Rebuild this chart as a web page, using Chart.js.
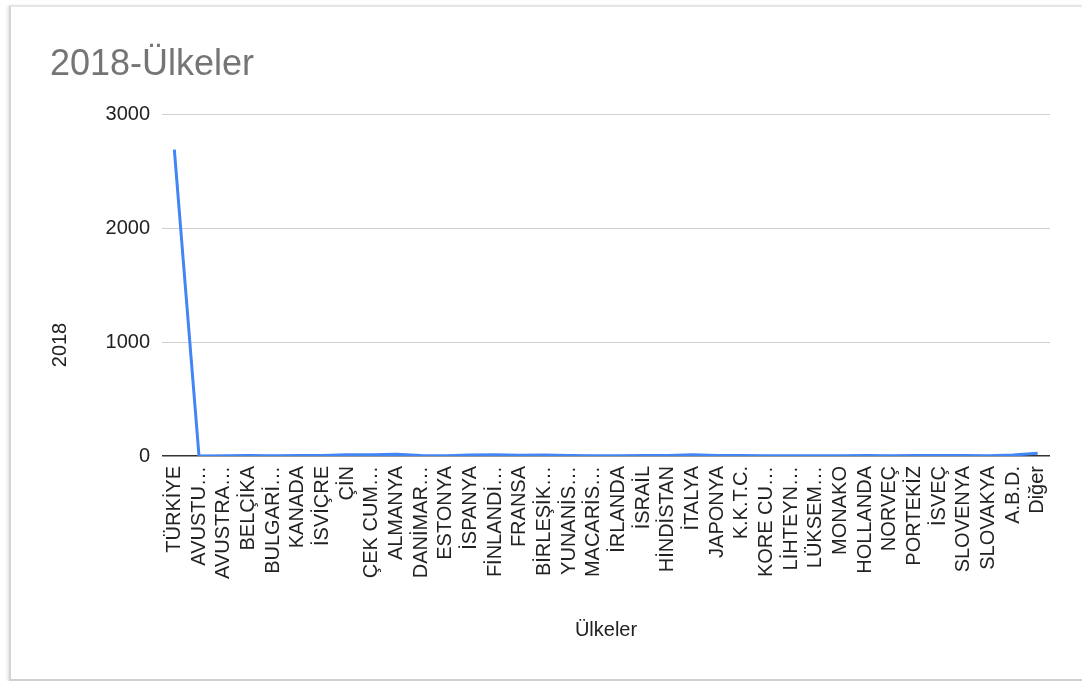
<!DOCTYPE html>
<html>
<head>
<meta charset="utf-8">
<script src="https://cdn.jsdelivr.net/npm/chart.js@4"></script>
<style>
  html, body { margin: 0; padding: 0; background: #fff; }
  body { width: 1082px; height: 681px; position: relative; overflow: hidden; }
  .card {
    position: absolute; left: 9px; top: 5px; width: 1100px; height: 672px;
    border-left: 2px solid #d4d4d4; border-top: 2px solid #e6e6e6; border-bottom: 2px solid #d0d0d0;
    box-shadow: -1px 1px 3px rgba(0,0,0,0.15);
  }
  .wrap { position: absolute; left: 0; top: 0; width: 1082px; height: 681px; }
</style>
</head>
<body>
<div class="card"></div>
<div class="wrap"><canvas id="chart"></canvas></div>
<script>
const countries = [
  "TÜRKİYE", "AVUSTU…", "AVUSTRA…", "BELÇİKA", "BULGARİ…", "KANADA", "İSVİÇRE", "ÇİN",
  "ÇEK CUM…", "ALMANYA", "DANİMAR…", "ESTONYA", "İSPANYA", "FİNLANDİ…", "FRANSA",
  "BİRLEŞİK…", "YUNANİS…", "MACARİS…", "İRLANDA", "İSRAİL", "HİNDİSTAN", "İTALYA",
  "JAPONYA", "K.K.T.C.", "KORE CU…", "LİHTEYN…", "LÜKSEM…", "MONAKO", "HOLLANDA",
  "NORVEÇ", "PORTEKİZ", "İSVEÇ", "SLOVENYA", "SLOVAKYA", "A.B.D.", "Diğer"
]
const values2018 = [
  2690, 0, 3, 4, 3, 4, 5, 12,
  10, 15, 4, 3, 8, 10, 6,
  8, 4, 3, 3, 4, 5, 12,
  5, 4, 3, 2, 2, 2, 4,
  3, 4, 5, 4, 3, 8, 25
]
const yTicks = [0, 1000, 2000, 3000]

const textFont = "'Liberation Sans', Arial, sans-serif"

// y axis title sits lower than the plot middle in the original
const yTitlePlugin = {
  id: 'yTitle',
  afterDraw(chart) {
    const ctx = chart.ctx
    ctx.save()
    ctx.translate(60, 345)
    ctx.rotate(-Math.PI / 2)
    ctx.font = "20px " + textFont
    ctx.fillStyle = '#222'
    ctx.textAlign = 'center'
    ctx.textBaseline = 'middle'
    ctx.fillText('2018', 0, 0)
    ctx.restore()
  }
}

new Chart(document.getElementById('chart'), {
  type: 'line',
  data: {
    labels: countries,
    datasets: [{
      label: '2018',
      data: values2018,
      borderColor: '#4285F4',
      borderWidth: 3,
      pointRadius: 0,
      tension: 0,
      fill: false
    }]
  },
  options: {
    responsive: true,
    maintainAspectRatio: false,
    animation: false,
    layout: { padding: { left: 50, top: 24, right: 32, bottom: 35 } },
    plugins: {
      legend: { display: false },
      tooltip: { enabled: false },
      title: {
        display: true,
        text: '2018-Ülkeler',
        align: 'start',
        color: '#757575',
        font: { family: textFont, size: 36, weight: 'normal' },
        padding: { top: 19, bottom: 28 }
      }
    },
    scales: {
      x: {
        offset: true,
        grid: { display: false, drawTicks: false },
        border: { display: false },
        ticks: {
          autoSkip: false,
          minRotation: 90,
          maxRotation: 90,
          padding: 10,
          color: '#222',
          font: { family: textFont, size: 20 }
        },
        title: {
          display: true,
          text: 'Ülkeler',
          color: '#222',
          font: { family: textFont, size: 20 }
        },
        afterFit(scale) { scale.height = 190 }
      },
      y: {
        min: 0,
        max: 3000,
        afterBuildTicks(scale) { scale.ticks = yTicks.map(v => ({ value: v })) },
        grid: {
          drawTicks: false,
          color: ctx => ctx.tick && ctx.tick.value === 0 ? '#333' : '#d0d0d0',
          lineWidth: ctx => ctx.tick && ctx.tick.value === 0 ? 1.5 : 1
        },
        border: { display: false },
        ticks: {
          padding: 12,
          color: '#222',
          font: { family: textFont, size: 20 },
          callback: v => String(v)
        },
        afterFit(scale) { scale.width = 112 }
      }
    }
  },
  plugins: [yTitlePlugin]
})
</script>
</body>
</html>
